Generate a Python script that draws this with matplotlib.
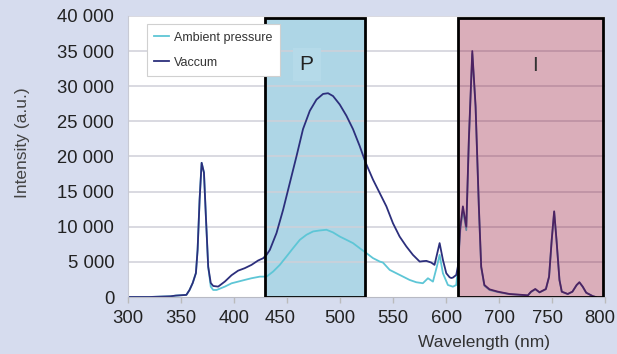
import matplotlib
matplotlib.use('Agg')
import matplotlib.pyplot as plt
import matplotlib.patches as mpatches
import matplotlib.transforms as mtransforms
import numpy as np

# wavelength (nm) / intensity (a.u.)
vac_nm = [300, 320, 340, 345, 350, 355, 358, 361, 364, 365.6, 367.5, 369.4, 371.6, 373.4,
          375.6, 378, 380.3, 385, 391.3, 397.6, 403.8, 410, 416.4, 422.6, 427.4, 430.6,
          433.7, 440, 446.2, 452.5, 458.8, 465, 471.4, 477.7, 483.9, 488.6, 493.3, 499.6,
          505.9, 512.1, 518.4, 524.1, 531, 537.3, 543.6, 549.8, 556.1, 562.4, 568.6, 575,
          578, 581.3, 585.9, 589, 593.8, 596.9, 600.2, 606.4, 609.6, 612.6, 619, 622,
          626.6, 631.5, 637.9, 642.7, 649.2, 655.4, 661.6, 666, 672, 681.7, 697.4, 709.7,
          719, 727, 730, 734, 738, 744, 747, 749.5, 751.8, 754, 756.8, 759, 764.6, 769,
          773, 775.6, 778.7, 782, 788, 791]
vac_val = [0, 0, 100, 200, 250, 300, 1000, 2000, 3400, 6700, 13900, 19100, 17700, 11500,
           4300, 2000, 1570, 1480, 2200, 3100, 3750, 4100, 4570, 5190, 5520, 6000,
           6700, 9100, 12400, 16200, 20000, 23900, 26500, 28100, 28900, 29000, 28600, 27400,
           25800, 23900, 21500, 19100, 16700, 14800, 12900, 10500, 8600, 7200, 6000, 5040,
           5100, 5140, 4900, 4570, 7670, 5290, 3380, 2810, 2700, 2760, 3140, 4330,
           10000, 12900, 10000, 22400, 35000, 27200, 12900, 4330, 1710, 1090, 760, 430,
           330, 240, 760, 1140, 670, 1140, 2900, 8140, 12200, 8140, 2430, 760, 430, 760,
           1710, 2100, 1480, 620, 140, 0]

amb_nm = [300, 320, 340, 345, 350, 355, 358, 361, 364, 365.6, 367.5, 369.4, 371.6, 373.4,
          375.6, 378, 380.3, 383.5, 391.3, 397.6, 403.8, 410, 416.4, 424.3, 430.6, 436.8,
          443.1, 449.4, 455.6, 462, 468.3, 474.5, 480.8, 487.1, 493.3, 499.6, 505.9, 512.1,
          518.4, 524.8, 531, 537.3, 540.4, 546.7, 553, 559.2, 565.5, 571.8, 578, 582.8,
          587.5, 591.2, 593.8, 596.9, 603.2, 612.6, 619, 622, 626.6, 631.5, 637.9, 642.7,
          649.2, 655.4, 661.6, 666, 672, 681.7, 697.4, 709.7, 719, 727, 730, 734, 738, 744,
          747, 749.5, 751.8, 754, 756.8, 759, 764.6, 769, 773, 775.6, 778.7, 782, 788, 791]
amb_val = [0, 0, 100, 200, 250, 300, 1000, 2000, 3400, 6700, 13900, 19100, 17700, 11500,
           4300, 1480, 1000, 1000, 1480, 1950, 2190, 2430, 2670, 2900, 2900, 3620,
           4570, 5760, 6950, 8140, 8860, 9330, 9470, 9570, 9190, 8610, 8140, 7670,
           6950, 6240, 5530, 5050, 4900, 3860, 3380, 2910, 2430, 2100, 1960, 2670,
           2190, 4330, 6000, 3380, 1710, 1470, 1710, 4000, 9500, 12400, 9500, 22000,
           34600, 27000, 12600, 4200, 1600, 1000, 700, 400, 300, 220, 700, 1100, 650, 1100,
           2850, 8100, 12100, 8100, 2400, 740, 420, 740, 1690, 2080, 1460, 600, 130, 0]

x_ticks = [300, 350, 400, 450, 500, 550, 600, 700, 750, 800]
y_ticks = [0, 5000, 10000, 15000, 20000, 25000, 30000, 35000, 40000]
y_labels = ['0', '5 000', '10 000', '15 000', '20 000', '25 000', '30 000', '35 000', '40 000']

# the original axis spends one tick step on 600-700
axis_nm = [300, 600, 700, 800]
axis_pos = [300, 600, 650, 750]

def fwd(x):
    return np.interp(x, axis_nm, axis_pos)

def inv(x):
    return np.interp(x, axis_pos, axis_nm)

bg = '#d6dcee'
font = ['Liberation Sans Narrow', 'Liberation Sans', 'DejaVu Sans']
plt.rcParams['font.family'] = font

fig = plt.figure(figsize=(6.17, 3.54), dpi=100, facecolor=bg)
ax = fig.add_axes([0.2075, 0.161, 0.7735, 0.794])
ax.set_facecolor('white')
ax.set_xscale('function', functions=(fwd, inv))
ax.set_xlim(300, 800)
ax.set_ylim(0, 40000)

# P box (opaque, below lines)
ax.add_patch(mpatches.Rectangle((429, 0), 523.2 - 429, 39700, facecolor='#aed6e6',
                                edgecolor='none', zorder=0.5))
for yv in y_ticks[1:]:
    ax.axhline(yv, color='#cfd0d8', lw=1.1, zorder=0.8)
ax.add_patch(mpatches.Rectangle((429, 0), 523.2 - 429, 39700, facecolor='none',
                                edgecolor='black', lw=2, zorder=4))

ax.plot(amb_nm, amb_val, color='#5ec6d6', lw=1.3, zorder=2, label='Ambient pressure')
ax.plot(vac_nm, vac_val, color='#2c2f7c', lw=1.3, zorder=2.1, label='Vaccum')

# I box (translucent, over lines)
ax.add_patch(mpatches.Rectangle((622, 0), 798 - 622, 39700, facecolor='#910930',
                                alpha=0.33, edgecolor='none', zorder=3))
ax.add_patch(mpatches.Rectangle((622, 0), 798 - 622, 39700, facecolor='none',
                                edgecolor='black', lw=2, zorder=4))

ax.text(468.5, 33100, 'P', fontsize=15, color='#222222', ha='center', va='center', zorder=5,
        bbox=dict(facecolor='#b5dae9', edgecolor='none', pad=5))
ax.text(734, 32900, 'I', fontsize=15, color='#333333', ha='center', va='center', zorder=5)

ax.set_xticks(x_ticks)
ax.set_xticklabels([str(v) for v in x_ticks])
ax.xaxis.set_minor_locator(plt.NullLocator())
ax.set_yticks(y_ticks)
ax.set_yticklabels(y_labels)
ax.tick_params(axis='x', labelsize=13.3, colors='#bbbbbb', labelcolor='#222222',
               length=4, width=1, pad=5)
ax.tick_params(axis='y', labelsize=13.3, labelcolor='#222222', length=0, pad=10)

# a few x labels sit left of their ticks in the original
shifts = {'450': -7, '750': -5, '800': -6}
for lab in ax.get_xticklabels():
    dx = shifts.get(lab.get_text(), 0)
    if dx:
        lab.set_transform(lab.get_transform() +
                          mtransforms.ScaledTranslation(dx / 100, 0, fig.dpi_scale_trans))

for s in ['top', 'right']:
    ax.spines[s].set_visible(False)
ax.spines['left'].set_color('#c8cad4')
ax.spines['bottom'].set_color('#b8bac4')

ax.set_ylabel('Intensity (a.u.)', fontsize=12.5, color='#444444')
ax.yaxis.set_label_coords(-0.205, 0.55)
ax.set_xlabel('Wavelength (nm)', fontsize=12.5, color='#333333')
ax.xaxis.set_label_coords(0.746, -0.135)

leg = ax.legend(loc='upper left', bbox_to_anchor=(0.238, 0.932),
                bbox_transform=fig.transFigure, fontsize=9, frameon=True,
                fancybox=False, framealpha=1, edgecolor='#d0d0d0',
                handlelength=1.2, handletextpad=0.4, labelspacing=1.05,
                borderpad=0.6, borderaxespad=0)
leg.set_zorder(6)
leg.get_frame().set_linewidth(0.8)
for t in leg.get_texts():
    t.set_color('#333333')

fig.savefig('out.png', dpi=100, facecolor=bg)
